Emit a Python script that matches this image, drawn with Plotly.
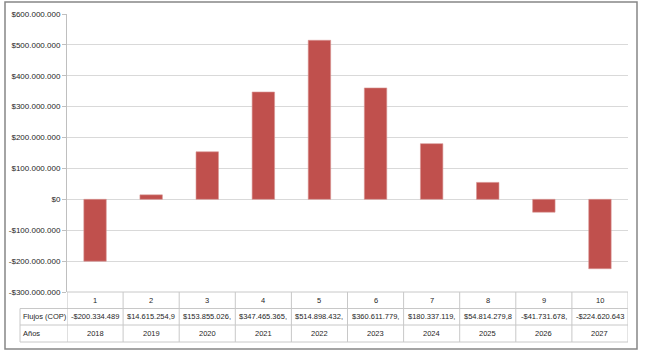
import plotly.graph_objects as go

# ---- data ----
periods = ["1", "2", "3", "4", "5", "6", "7", "8", "9", "10"]
flows = [-200334489, 14615254.9, 153855026, 347465365, 514898432,
         360611779, 180337119, 54814279.8, -41731678, -224620643]
flow_labels = ["-$200.334.489", "$14.615.254,9", "$153.855.026,", "$347.465.365,",
               "$514.898.432,", "$360.611.779,", "$180.337.119,", "$54.814.279,8",
               "-$41.731.678,", "-$224.620.643"]
years = ["2018", "2019", "2020", "2021", "2022", "2023", "2024", "2025", "2026", "2027"]
tick_vals = [600e6, 500e6, 400e6, 300e6, 200e6, 100e6, 0, -100e6, -200e6, -300e6]
tick_text = ["$600.000.000", "$500.000.000", "$400.000.000", "$300.000.000",
             "$200.000.000", "$100.000.000", "$0", "-$100.000.000",
             "-$200.000.000", "-$300.000.000"]
row_names = ["Flujos (COP)", "Años"]

W, H = 650, 358
FONT = "Liberation Sans, Arial, sans-serif"
TXT = "#262626"
GRID = "#D9D9D9"
TBL = "#C8C8C8"
FS = 8
FS_T = 7.5

def px_x(x):
    return x / W

def px_y(y):
    return (H - y) / H

plot_left, plot_right = 67, 628
plot_top, plot_bottom = 14, 292
row_lines = [292, 308.5, 325, 342]
label_left = 20

xs = list(range(len(periods)))

fig = go.Figure()
fig.add_trace(go.Bar(
    x=xs, y=flows, width=0.4,
    marker=dict(color="#C0504D", line=dict(color="#D99694", width=0.6)),
    hoverinfo="skip",
))

shapes = []
# outer border
shapes.append(dict(type="rect", xref="paper", yref="paper",
                   x0=px_x(5), x1=px_x(637), y0=px_y(349), y1=px_y(2),
                   line=dict(color="#868686", width=1.5)))
# table horizontal lines
shapes.append(dict(type="line", xref="paper", yref="paper",
                   x0=px_x(plot_left), x1=px_x(plot_right),
                   y0=px_y(row_lines[0]), y1=px_y(row_lines[0]),
                   line=dict(color=TBL, width=1)))
for ry in row_lines[1:]:
    shapes.append(dict(type="line", xref="paper", yref="paper",
                       x0=px_x(label_left), x1=px_x(plot_right),
                       y0=px_y(ry), y1=px_y(ry),
                       line=dict(color=TBL, width=1)))
# table vertical lines (column boundaries in data coords)
for i in range(len(periods) + 1):
    shapes.append(dict(type="line", xref="x", yref="paper",
                       x0=i - 0.5, x1=i - 0.5,
                       y0=px_y(row_lines[-1]), y1=px_y(row_lines[0]),
                       line=dict(color=TBL if i > 0 else "#BFBFBF", width=1)))
# left label column border
shapes.append(dict(type="line", xref="paper", yref="paper",
                   x0=px_x(label_left), x1=px_x(label_left),
                   y0=px_y(row_lines[-1]), y1=px_y(row_lines[1]),
                   line=dict(color=TBL, width=1)))

annotations = []
row_centers = [(row_lines[k] + row_lines[k + 1]) / 2 for k in range(3)]
for i in xs:
    for k, txt in enumerate([periods[i], flow_labels[i], years[i]]):
        annotations.append(dict(x=i, xref="x", y=px_y(row_centers[k]), yref="paper",
                                text=txt, showarrow=False, xanchor="center",
                                yanchor="middle",
                                font=dict(family=FONT, size=FS_T, color=TXT)))
for k, name in enumerate(row_names):
    annotations.append(dict(x=px_x(label_left + 1), xref="paper",
                            y=px_y(row_centers[k + 1]), yref="paper",
                            text=name, showarrow=False, xanchor="left",
                            yanchor="middle",
                            font=dict(family=FONT, size=FS_T, color=TXT)))

fig.update_layout(
    template="none",
    width=W, height=H, autosize=False,
    margin=dict(l=0, r=0, t=0, b=0, pad=0),
    paper_bgcolor="white", plot_bgcolor="white",
    showlegend=False, bargap=0.6,
    font=dict(family=FONT, size=FS, color=TXT),
    xaxis=dict(domain=[px_x(plot_left), px_x(plot_right)], range=[-0.5, 9.5],
               showticklabels=False, showgrid=False, zeroline=False,
               showline=False, ticks="", fixedrange=True, automargin=False),
    yaxis=dict(domain=[px_y(plot_bottom), px_y(plot_top)], range=[-300e6, 600e6],
               tickvals=tick_vals, ticktext=tick_text,
               showgrid=True, gridcolor=GRID, gridwidth=1,
               zeroline=False, showline=True, linecolor="#BFBFBF", linewidth=1,
               ticks="outside", ticklen=4, tickcolor="#BFBFBF",
               tickfont=dict(family=FONT, size=FS, color=TXT), fixedrange=True,
               automargin=False),
    shapes=shapes, annotations=annotations,
)

fig.write_html("out.html",
               config={"displayModeBar": False, "staticPlot": True},
               post_script="document.body.style.margin='0';"
                           "document.body.style.overflow='hidden';")
